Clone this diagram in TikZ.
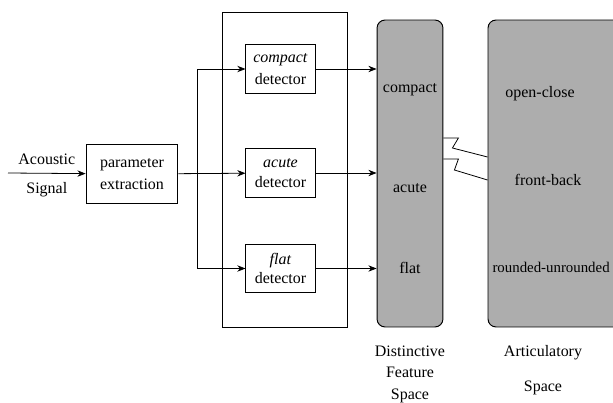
\documentclass[tikz,border=0pt]{standalone}
\usepackage{fontspec}
\setmainfont{Liberation Serif}
\usetikzlibrary{arrows.meta,positioning,calc}
\definecolor{fieldgray}{gray}{0.68}

\begin{document}
\begin{tikzpicture}[x=0.022cm, y=-0.022cm, every node/.style={font=\normalsize}]
    \tikzstyle{block}=[draw,line width=0.6pt,align=center,inner sep=2pt]
    \tikzstyle{detect}=[block,minimum width=1.52cm,minimum height=1.06cm]
    \tikzstyle{fieldbox}=[draw,line width=0.6pt,rounded corners=5pt,fill=fieldgray]
    \tikzstyle{wire}=[-{Stealth[length=1.8mm,width=1.4mm]},line width=0.5pt]
    \useasboundingbox (0,0) rectangle (613,403);
    % input and parameter extraction
    \coordinate (src) at (8,173);
    \node[block,minimum width=2.02cm,minimum height=1.28cm] (param) at (132,174) {parameter\\[2pt]extraction};
    % detector bank
    \node[draw,line width=0.6pt,minimum width=2.77cm,minimum height=6.93cm] (bank) at (285,169.5) {};
    \node[detect] (compact) at (280.5,69) {\textit{compact}\\[2pt]detector};
    \node[detect] (acute) at (280.5,173) {\textit{acute}\\detector};
    \node[detect] (flat) at (280.5,268.5) {\textit{flat}\\detector};
    \coordinate (split) at (197,173);
    % feature spaces
    \node[fieldbox,minimum width=1.45cm,minimum height=6.754cm] (dfspace) at (410,173.5) {};
    \node[fieldbox,minimum width=3.344cm,minimum height=6.754cm] (artspace) at (564,173.5) {};
    \node at (410,90) {compact};
    \node at (410,188) {acute};
    \node at (410,268) {flat};
    \node at (540,94) {open-close};
    \node at (548,180) {front-back};
    \node[anchor=east,inner sep=0pt,font=\fontsize{9.3}{11}\selectfont] at (610,267) {rounded-unrounded};
    \coordinate (artfoot) at (543,327);
    \node[below=0.28cm of dfspace,align=center] (dflabel) {Distinctive\\[1.5pt]Feature\\[1.5pt]Space};
    \node[below=0.28cm of artfoot,align=center] (artlabel) {Articulatory\\[10pt]Space};
    % connections
    \draw[wire] (src) -- node[above=2pt]{Acoustic} node[below=2pt]{Signal} (param);
    \draw[wire] (param) -- (acute);
    \draw[wire] (split) |- (compact);
    \draw[wire] (split) |- (flat);
    \draw[wire] (compact) -- (compact -| dfspace.west);
    \draw[wire] (acute) -- (acute -| dfspace.west);
    \draw[wire] (flat) -- (flat -| dfspace.west);
    % mapping between the spaces
    \draw[line width=0.5pt] (dfspace.east |- 0,138) -- ++(15,0) -- ++(-6,10) -- (artspace.west |- 0,157);
    \draw[line width=0.5pt] (dfspace.east |- 0,159) -- ++(15,0) -- ++(-4,11) -- (artspace.west |- 0,180);
\end{tikzpicture}
\end{document}
